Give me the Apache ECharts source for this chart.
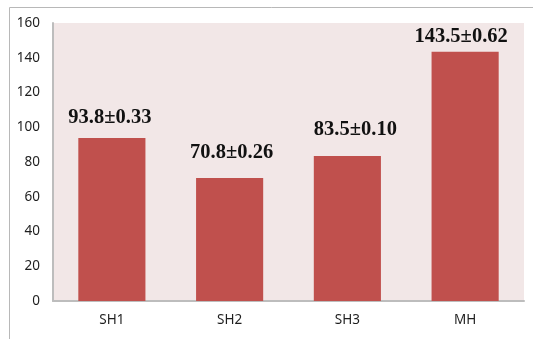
<!DOCTYPE html>
<html>
<head>
<meta charset="utf-8">
<script src="https://cdn.jsdelivr.net/npm/echarts@6/dist/echarts.min.js"></script>
<style>html,body{margin:0;padding:0;background:#fff}#c{width:533px;height:339px}</style>
</head>
<body>
<div id="c"></div>
<script>
const categories = ['SH1', 'SH2', 'SH3', 'MH'];
const values = [93.8, 70.8, 83.5, 143.5];
const errors = ['0.33', '0.26', '0.10', '0.62'];
const yTicks = [0, 20, 40, 60, 80, 100, 120, 140, 160];

// label placement tweaks (style only)
const labelOffsetX = [-2, 2, 8, -4];
const labelDistance = [10, 15, 16, 4];

const chart = echarts.init(document.getElementById('c'), null, {renderer: 'canvas'});
chart.setOption({
  animation: false,
  backgroundColor: '#ffffff',
  graphic: [{
    type: 'rect', left: 7, top: 5, z: -10,
    shape: {width: 560, height: 360},
    style: {fill: 'none', stroke: '#b8b8b8', lineWidth: 1}
  }],
  grid: {left: 53, top: 23, right: 9, bottom: 38, show: true, backgroundColor: '#f2e7e7', borderWidth: 0},
  xAxis: {
    type: 'category',
    data: categories,
    axisLine: {lineStyle: {color: '#bdbdbd', width: 2}},
    axisTick: {show: false},
    axisLabel: {fontFamily: 'Noto Sans', fontSize: 13.5, color: '#1e1e1e', margin: 12}
  },
  yAxis: {
    type: 'value',
    min: yTicks[0], max: yTicks[yTicks.length - 1], interval: 20,
    splitLine: {show: false},
    axisLine: {show: true, lineStyle: {color: '#bdbdbd', width: 2}},
    axisTick: {show: false},
    axisLabel: {fontFamily: 'Noto Sans', fontSize: 13.5, color: '#1e1e1e', margin: 13}
  },
  series: [{
    type: 'bar',
    barCategoryGap: '43%',
    data: values.map((v, i) => ({
      value: v,
      label: {offset: [labelOffsetX[i], 0], distance: labelDistance[i]}
    })),
    itemStyle: {color: '#c0504d'},
    label: {
      show: true,
      position: 'top',
      formatter: p => values[p.dataIndex] + '±' + errors[p.dataIndex],
      fontFamily: 'Liberation Serif',
      fontWeight: 'bold',
      fontSize: 20.5,
      color: '#111'
    }
  }]
});
</script>
</body>
</html>
